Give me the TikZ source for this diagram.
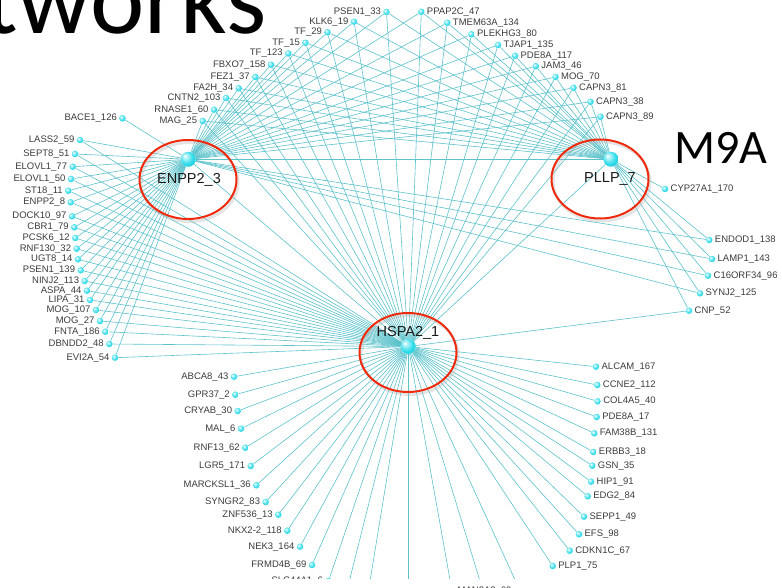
\documentclass[tikz,border=0pt]{standalone}
\usepackage{fontspec}
\setmainfont{Liberation Sans}
\newfontfamily\slidefont{Carlito}
\usetikzlibrary{backgrounds}

\definecolor{edgec}{RGB}{92,194,203}
\definecolor{ballc}{RGB}{45,220,235}
\definecolor{ringc}{RGB}{238,42,12}
\definecolor{lblc}{RGB}{60,60,60}

% glossy cyan sphere used for every gene node
\pgfdeclareradialshading{nodeball}{\pgfpoint{-12bp}{12bp}}{%
  color(0bp)=(white); color(7bp)=(ballc!35!white); color(22bp)=(ballc);
  color(40bp)=(ballc!85!black); color(50bp)=(ballc!70!black)}

\tikzset{
  dot/.style={circle, inner sep=0pt, minimum size=6.5pt, shading=nodeball},
  hub/.style={circle, inner sep=0pt, minimum size=15pt, shading=nodeball},
  lbl/.style={font=\fontsize{9.5}{10}\selectfont, text=lblc, inner sep=0pt},
  hublbl/.style={font=\fontsize{14.5}{15}\selectfont, text=black!90, inner sep=0pt},
  link/.style={draw=edgec, line width=0.6pt},
  ring/.style={draw=ringc, line width=2pt},
  ringshadow/.style={draw=black!30, line width=3pt, opacity=0.35},
}

\begin{document}
\begin{tikzpicture}[x=1pt, y=-1pt, label distance=2pt]
\useasboundingbox (0,0) rectangle (782,588);

% slide title fragments
\node[anchor=base west, inner sep=0pt, font=\slidefont\fontsize{103}{103}\selectfont] (title) at (-17,34) {tworks};
\node[anchor=base west, inner sep=0pt, font=\slidefont\fontsize{48}{48}\selectfont] (module) at (674,164) {M9A};

\begin{scope}
\clip (0,0) rectangle (782,578);

% hubs
\node[hub] (E) at (188.3,159.3) {};
\node[hub] (P) at (611,159.3) {};
\node[hub] (H) at (408.3,346.5) {};

% upper arc, labels to the left
\foreach \n/\x/\y/\lab in {
  a1/386.5/12/PSEN1\_33, a2/354/21.7/KLK6\_19, a3/327.5/32.3/TF\_29,
  a4/305.5/42.8/TF\_15, a5/288.3/53.5/TF\_123, a6/271/64.7/FBXO7\_158,
  a7/255.3/77/FEZ1\_37, a8/238.7/88.3/FA2H\_34, a9/226/98/CNTN2\_103,
  a10/214/109.7/RNASE1\_60, a11/202.7/121/MAG\_25, c1/122.5/118.3/BACE1\_126}
  \node[dot, label={[lbl]left:\lab}] (\n) at (\x,\y) {};

% upper arc, labels to the right
\foreach \n/\x/\y/\lab in {
  b1/421.3/11.8/PPAP2C\_47, b2/447.3/22.8/TMEM63A\_134, b3/471.5/34.3/PLEKHG3\_80,
  b4/498/45/TJAP1\_135, b5/515/55.8/PDE8A\_117, b6/535.8/66.2/JAM3\_46,
  b7/555.5/77/MOG\_70, b8/573.5/87.8/CAPN3\_81, b9/590.5/101.8/CAPN3\_38,
  b10/600.5/116.8/CAPN3\_89}
  \node[dot, label={[lbl]right:\lab}] (\n) at (\x,\y) {};

% left column
\foreach \n/\x/\y/\lab in {
  l1/80/140/LASS2\_59, l2/75/154/SEPT8\_51, l3/72.7/166.7/ELOVL1\_77,
  l4/71/179/ELOVL1\_50, l5/68.3/190.7/ST18\_11, l6/70.7/202.3/ENPP2\_8,
  l7/72/216.3/DOCK10\_97, l8/74.3/227.3/CBR1\_79, l9/75.3/238/PCSK6\_12,
  l10/76.7/248.7/RNF130\_32, l11/78/259.3/UGT8\_14, l12/80.7/270.3/PSEN1\_139,
  l13/84.7/281/NINJ2\_113, l14/87/290.7/ASPA\_44, l15/90/300/LIPA\_31,
  l16/96/310/MOG\_107, l17/100/321/MOG\_27, l18/105.3/331.7/FNTA\_186,
  l19/109.3/344/DBNDD2\_48, l20/115/357.7/EVI2A\_54}
  \node[dot, label={[lbl]left:\lab}] (\n) at (\x,\y) {};

% right side
\foreach \n/\x/\y/\lab in {
  r0/665/189/CYP27A1\_170, r1/709.3/240/ENDOD1\_138, r2/712/259/LAMP1\_143,
  r3/708/275.7/C16ORF34\_96, r4/700/293.3/SYNJ2\_125, r5/689/310.7/CNP\_52,
  s1/596/366.7/ALCAM\_167, s2/597.3/385/CCNE2\_112, s3/597.7/401.3/COL4A5\_40,
  s4/596.7/417/PDE8A\_17, s5/594.3/433.3/FAM38B\_131, s6/593.3/452/ERBB3\_18,
  s7/592.3/465.7/GSN\_35, s8/591/481.7/HIP1\_91, s9/587.7/496.3/EDG2\_84,
  s10/584/516.7/SEPP1\_49, s11/579/534.3/EFS\_98, s12/569.7/550.7/CDKN1C\_67,
  s13/552.7/566/PLP1\_75}
  \node[dot, label={[lbl]right:\lab}] (\n) at (\x,\y) {};

% lower left fan
\foreach \n/\x/\y/\lab in {
  u1/234/376.7/ABCA8\_43, u2/235.3/394.7/GPR37\_2, u3/237.7/411/CRYAB\_30,
  u4/241/428.7/MAL\_6, u5/245.3/447.7/RNF13\_62, u6/250.7/466/LGR5\_171,
  u7/256.3/485.3/MARCKSL1\_36, u8/265.7/502/SYNGR2\_83, u9/278.3/514.7/ZNF536\_13,
  u10/287.3/530.7/NKX2-2\_118, u11/300/546.7/NEK3\_164, u12/312/565/FRMD4B\_69,
  u13/328.5/581/SLC44A1\_6}
  \node[dot, label={[lbl]left:\lab}] (\n) at (\x,\y) {};

% nodes below the visible frame
\node[dot] (m1) at (452,591) {};
\coordinate (h1) at (339.5,620);
\coordinate (h2) at (363.7,620);
\coordinate (h3) at (408.3,620);
\coordinate (h4) at (491.9,620);
\coordinate (h5) at (533.4,620);
\end{scope}

\node[lbl, anchor=west] (m1lbl) at ([xshift=2pt]m1.east) {MAN2A2\_69};

% interactions
\begin{pgfonlayer}{background}
\begin{scope}
\clip (0,0) rectangle (782,578);
\foreach \n in {a1,a2,a3,a4,a5,a6,a7,a8,a9,a10,a11,b1,b2,b3,b4,b5,b6,b7,b8,b9,b10} {
  \draw[link] (\n) -- (E); \draw[link] (\n) -- (P); \draw[link] (\n) -- (H); }
\draw[link] (c1) -- (E);
\foreach \n in {l1,l2,l3,l4,l5,l6,l7,l8,l9,l10,l11,l12,l13,l14,l15,l16,l17,l18,l19,l20} {
  \draw[link] (\n) -- (E); \draw[link] (\n) -- (H); }
\draw[link] (r0) -- (P);
\foreach \n in {r1,r2,r3,r4} {
  \draw[link] (\n) -- (P); \draw[link] (\n) -- (E); }
\draw[link] (r5) -- (P); \draw[link] (r5) -- (H);
\foreach \n in {s1,s2,s3,s4,s5,s6,s7,s8,s9,s10,s11,s12,s13,
                u1,u2,u3,u4,u5,u6,u7,u8,u9,u10,u11,u12,u13,m1,h1,h2,h3,h4,h5}
  \draw[link] (\n) -- (H);
\draw[link] (E) -- (P);
\draw[link] (E) -- (H);
\draw[link] (P) -- (H);
\end{scope}
\end{pgfonlayer}

% hub labels
\node[hublbl] (Elbl) at (189,180) {ENPP2\_3};
\node[hublbl] (Plbl) at (610,179) {PLLP\_7};
\node[hublbl] (Hlbl) at (408,333) {HSPA2\_1};

% highlight rings
\foreach \cx/\cy in {188/179.5, 600/179, 408/352.5} {
  \draw[ringshadow] ([shift={(1.5,2.5)}]\cx,\cy) ellipse [x radius=48.5, y radius=39.5];
  \draw[ring] (\cx,\cy) ellipse [x radius=48.5, y radius=39.5];
}
\end{tikzpicture}
\end{document}
